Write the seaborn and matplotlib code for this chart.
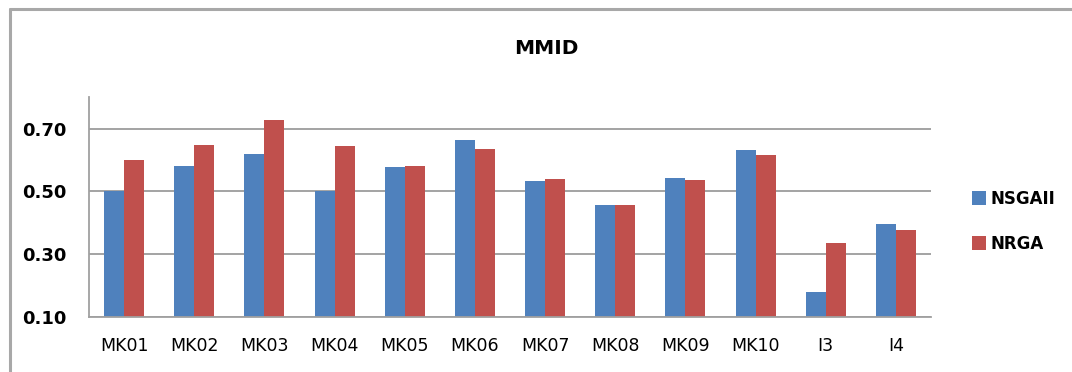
import matplotlib
matplotlib.use("Agg")
import matplotlib.pyplot as plt
from matplotlib.lines import Line2D
import pandas as pd
import seaborn as sns

# Instances and MMID values for each algorithm
instances = ["MK01", "MK02", "MK03", "MK04", "MK05", "MK06", "MK07",
             "MK08", "MK09", "MK10", "I3", "I4"]
nsgaii = [0.50, 0.58, 0.62, 0.50, 0.577, 0.665, 0.532, 0.456, 0.544, 0.632, 0.18, 0.397]
nrga = [0.60, 0.647, 0.727, 0.645, 0.582, 0.636, 0.54, 0.456, 0.535, 0.617, 0.335, 0.378]
series_names = ["NSGAII", "NRGA"]
yticks = [0.10, 0.30, 0.50, 0.70]

df = pd.DataFrame({
    "instance": instances * 2,
    "value": nsgaii + nrga,
    "algorithm": [series_names[0]] * len(instances) + [series_names[1]] * len(instances),
})

sns.set_theme(style="white")
plt.rcParams["font.family"] = ["DejaVu Sans"]

fig = plt.figure(figsize=(10.72, 3.72), dpi=100)
ax = fig.add_axes([0.083, 0.147, 0.7855, 0.592])

palette = {"NSGAII": "#4F81BD", "NRGA": "#C0504D"}
sns.barplot(data=df, x="instance", y="value", hue="algorithm", order=instances,
            hue_order=series_names, palette=palette, width=0.57, gap=0,
            saturation=1, linewidth=0, ax=ax, legend=False)

ax.set_ylim(0.10, 0.80)
ax.set_xlim(-0.5, len(instances) - 0.5)
ax.set_yticks(yticks)
ax.set_yticklabels([f"{v:.2f}" for v in yticks], fontsize=13, fontweight="bold",
                   color="black")
ax.set_xticklabels(instances, fontsize=12.5, color="black")
ax.set_xlabel("")
ax.set_ylabel("")
ax.tick_params(axis="both", length=0)
ax.tick_params(axis="x", pad=14)
ax.tick_params(axis="y", pad=16)
ax.yaxis.grid(True, color="#8a8a8a", linewidth=1.1)
ax.set_axisbelow(True)
for side in ["top", "right"]:
    ax.spines[side].set_visible(False)
for side in ["left", "bottom"]:
    ax.spines[side].set_color("#a0a0a0")
    ax.spines[side].set_linewidth(1.3)

fig.text(0.51, 0.87, "MMID", fontsize=14.5, fontweight="bold", color="black",
         ha="center", va="center")

handles = [Line2D([0], [0], marker="s", linestyle="", markersize=10,
                  markerfacecolor=palette[n], markeredgewidth=0) for n in series_names]
leg = fig.legend(handles, series_names, loc="center left", bbox_to_anchor=(0.893, 0.405),
                 frameon=False, handlelength=0.8, handletextpad=0.3,
                 labelspacing=1.6, prop={"weight": "bold", "size": 12})
for t in leg.get_texts():
    t.set_color("black")

# Chart-area frame (left and top edges)
fig.add_artist(Line2D([0.009, 0.009], [0.0, 0.975], color="#a8a8a8", linewidth=2.2,
                      transform=fig.transFigure))
fig.add_artist(Line2D([0.009, 1.0], [0.975, 0.975], color="#a8a8a8", linewidth=2.2,
                      transform=fig.transFigure))

fig.savefig("out.png", dpi=100)
